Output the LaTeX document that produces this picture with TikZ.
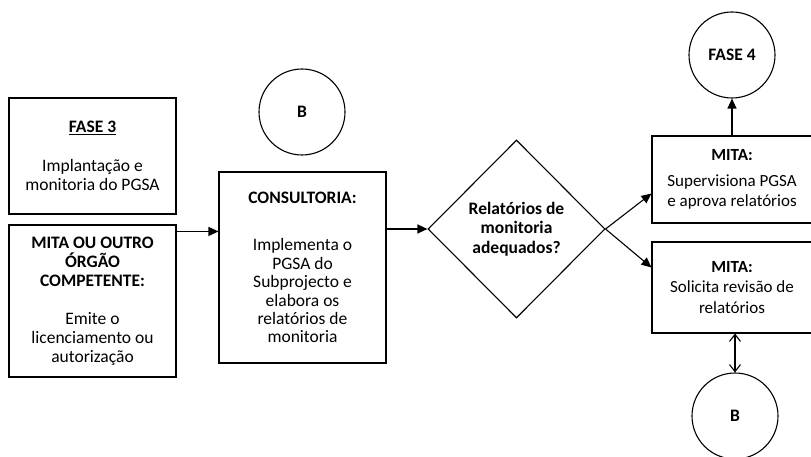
\documentclass[tikz,border=0pt]{standalone}
\usepackage{fontspec}
\setmainfont{Carlito}
\usetikzlibrary{shapes.geometric,arrows.meta,calc}
\tikzset{
  box/.style={draw, line width=1.1pt, rectangle, inner sep=0pt, align=center, font=\fontsize{17.5}{19}\selectfont},
  conn/.style={draw, line width=1.1pt, circle, inner sep=0pt, minimum size=86pt, font=\fontsize{17.5}{19}\selectfont\bfseries},
  decis/.style={draw, line width=1.1pt, diamond, inner sep=0pt, minimum width=177pt, minimum height=178pt, align=center, font=\fontsize{17.5}{19.5}\selectfont\bfseries},
  arr/.style={line width=1.1pt, -{Triangle[length=10pt,width=9pt]}},
  dbl/.style={line width=1.1pt, {Straight Barb[length=7pt,width=11pt]}-{Straight Barb[length=7pt,width=11pt]}},
}
\begin{document}
\begin{tikzpicture}[x=1pt,y=-1pt]
\clip (0,0) rectangle (811,457);
\node[box, minimum width=167pt, minimum height=116pt] (fase3) at (92.5,156)
  {\textbf{\underline{FASE 3}}\\[20pt]Implantação e\\monitoria do PGSA};
\node[box, minimum width=167pt, minimum height=152pt] (mita) at (92.5,301)
  {\textbf{MITA OU OUTRO}\\\textbf{ÓRGÃO}\\\textbf{COMPETENTE:}\\[19pt]Emite o\\licenciamento ou\\autorização};
\node[conn] (b1) at (302,112) {B};
\node[box, minimum width=167pt, minimum height=191pt, font=\fontsize{17.5}{18.4}\selectfont] (cons) at (302.5,267.5)
  {\textbf{CONSULTORIA:}\\[29pt]Implementa o\\PGSA do\\Subprojecto e\\elabora os\\relatórios de\\monitoria};
\node[decis] (dec) at (516.5,229) {Relatórios de\\monitoria\\adequados?};
\node[box, minimum width=160pt, minimum height=87pt, font=\fontsize{17}{20}\selectfont] (sup) at (732,179.5)
  {\textbf{MITA:}\\[6pt]Supervisiona PGSA\\e aprova relatórios};
\node[box, minimum width=160pt, minimum height=91pt, font=\fontsize{17}{20.5}\selectfont] (rev) at (732,287.5)
  {\textbf{MITA:}\\Solicita revisão de\\relatórios};
\node[conn] (f4) at (732,55) {FASE 4};
\node[conn] (b2) at (735,416) {B};
\coordinate (m1) at ($(mita.north east)+(0,7)$);
\draw[arr] (m1) -- (cons.west |- m1);
\draw[arr] (cons.east |- dec.west) -- (dec.west);
\draw[arr] (dec.east) -- ($(sup.south west)+(0,-30)$);
\draw[arr] (dec.east) -- ($(rev.north west)+(0,26)$);
\draw[arr] (sup.north) -- (f4.south);
\draw[dbl] (rev.south -| b2.north) -- (b2.north);
\end{tikzpicture}
\end{document}
